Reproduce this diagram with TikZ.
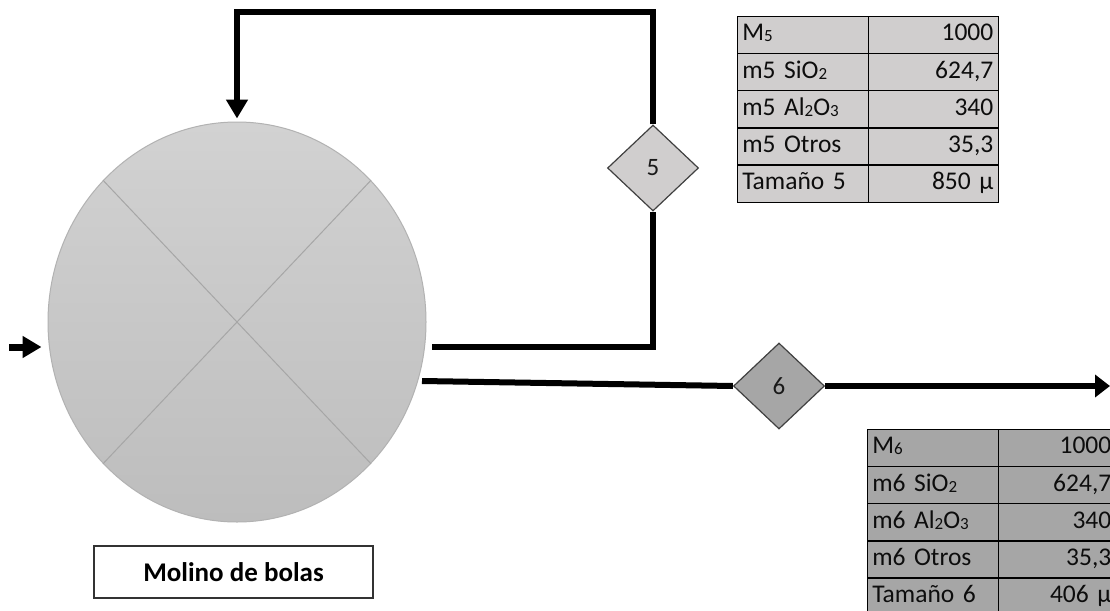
\documentclass[tikz,border=0pt]{standalone}
\usepackage{fontspec}
\setmainfont{Carlito}
\usetikzlibrary{shapes.geometric,arrows.meta,matrix}

\definecolor{lightcell}{HTML}{D0CECE}
\definecolor{darkcell}{HTML}{A6A6A6}
\definecolor{millfillA}{HTML}{D2D2D2}
\definecolor{millfillB}{HTML}{BDBDBD}

% small lowered digit, as in chemical formulae
\newcommand{\lo}[1]{\raisebox{-1pt}{\fontsize{17}{17}\selectfont #1}}

\tikzset{
  flow/.style={line width=6pt, black},
  tipbig/.style={-{Triangle[length=19pt,width=21pt]}},
  tipout/.style={-{Triangle[length=15pt,width=22pt]}},
  valve/.style={diamond, draw=black!75, line width=1.2pt, minimum width=91pt,
    minimum height=86pt, inner sep=0pt, text=black!90,
    font=\fontsize{25}{28}\selectfont},
  tcell/.style={draw=black, line width=1.5pt, minimum height=37.2pt,
    inner xsep=5pt, inner ysep=0pt, text height=17pt, text depth=5pt,
    text=black!95, font=\fontsize{25.5}{28}\selectfont},
  label box/.style={draw=black!80, line width=1.5pt, minimum width=279pt,
    minimum height=52pt, fill=white, font=\bfseries\fontsize{27}{30}\selectfont}
}

\begin{document}
\begin{tikzpicture}[x=1pt,y=-1pt]
\useasboundingbox[fill=white] (0,0) rectangle (1110,610);

% ball mill
\node (mill) [ellipse, draw=black!30, line width=1pt, top color=millfillA,
  bottom color=millfillB, minimum width=378pt, minimum height=400pt,
  inner sep=0pt] at (237,322) {};
\draw[black!35, line width=1pt] (mill.north west) -- (mill.south east);
\draw[black!35, line width=1pt] (mill.north east) -- (mill.south west);

\node (name) [label box] at (233.5,572) {Molino de bolas};

% stream valves
\node (d5) [valve, fill=lightcell] at (653,168) {5};
\node (d6) [valve, fill=darkcell] at (779,386) {6};

% feed
\coordinate (feed) at (9,347);
\draw[line width=7pt, tipbig, shorten >=6pt] (feed) -- (feed -| mill.west);

% recycle loop
\coordinate (rec) at (432,347);
\coordinate (topline) at (0,12);
\draw[flow, line join=miter] (rec) -| (d5.south);
\draw[flow, line join=miter, tipbig, shorten >=3pt]
  (d5.north) |- (mill.north |- topline) -- (mill.north);

% product
\coordinate (prod) at (422,381);
\coordinate (exit) at (1110,386);
\draw[flow] (prod) -- (d6.west);
\draw[flow, tipout] (d6.east) -- (exit);

% stream 5 table
\matrix (t5) [matrix of nodes, anchor=north west, column sep=-1.5pt,
  row sep=-1.5pt, nodes={tcell, fill=lightcell},
  column 1/.style={nodes={text width=121pt, align=left}},
  column 2/.style={nodes={text width=120pt, align=right}}] at (733,12) {
  M\lo{5} & 1000 \\
  m5 SiO\lo{2} & 624,7 \\
  m5 Al\lo{2}O\lo{3} & 340 \\
  m5 Otros & 35,3 \\
  Tamaño 5 & 850 µ \\
};

% stream 6 table
\matrix (t6) [matrix of nodes, anchor=north west, column sep=-1.5pt,
  row sep=-1.5pt, nodes={tcell, fill=darkcell},
  column 1/.style={nodes={text width=121pt, align=left}},
  column 2/.style={nodes={text width=108pt, align=right}}] at (863,425) {
  M\lo{6} & 1000 \\
  m6 SiO\lo{2} & 624,7 \\
  m6 Al\lo{2}O\lo{3} & 340 \\
  m6 Otros & 35,3 \\
  Tamaño 6 & 406 µ \\
};
\end{tikzpicture}
\end{document}
